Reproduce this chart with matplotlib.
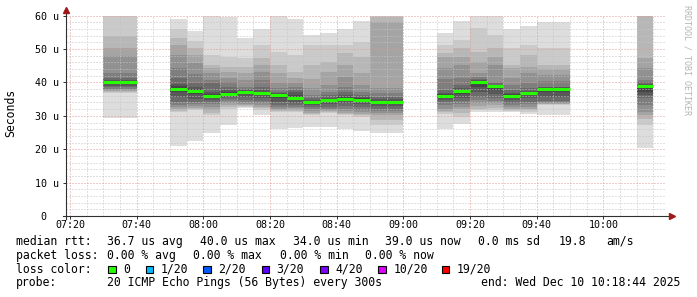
import matplotlib
matplotlib.use("Agg")
import matplotlib.pyplot as plt
from matplotlib.patches import Rectangle
from matplotlib.ticker import FixedLocator, MultipleLocator, FixedFormatter
import numpy as np

# ---------------- data (values in microseconds) ----------------
slot_times = ["07:30", "07:35", "07:50", "07:55", "08:00", "08:05", "08:10", "08:15",
              "08:20", "08:25", "08:30", "08:35", "08:40", "08:45", "08:50", "08:55",
              "09:10", "09:15", "09:20", "09:25", "09:30", "09:35", "09:40", "09:45",
              "10:10"]

pings = [
    [29.3, 36.8, 37.0, 37.3, 37.6, 38.0, 38.5, 39.0, 39.5, 39.9, 40.2, 40.5, 40.8, 41.2, 42.7, 48.0, 50.2, 54.0, 61.0, 66.0],
    [29.3, 36.8, 37.0, 37.3, 37.6, 38.0, 38.5, 39.0, 39.5, 39.9, 40.2, 40.5, 40.8, 41.2, 42.7, 48.0, 50.2, 54.0, 61.0, 66.0],
    [21.1, 31.2, 31.6, 32.0, 32.6, 33.2, 34.2, 35.5, 37.0, 37.8, 38.2, 38.8, 39.6, 41.2, 44.2, 48.2, 51.2, 53.2, 56.0, 59.1],
    [22.6, 31.7, 32.0, 32.4, 32.9, 33.4, 34.0, 35.0, 36.5, 37.3, 37.7, 38.1, 38.6, 39.7, 42.5, 45.7, 48.2, 50.2, 52.4, 55.3],
    [24.9, 30.2, 31.0, 31.8, 32.7, 33.6, 34.2, 34.8, 35.4, 35.9, 36.1, 36.4, 37.2, 39.7, 40.7, 42.7, 44.2, 45.2, 48.2, 62.0],
    [27.3, 32.2, 32.7, 33.2, 33.7, 34.3, 34.9, 35.5, 36.0, 36.3, 36.6, 37.0, 37.6, 38.7, 40.0, 41.2, 43.2, 44.7, 47.7, 59.5],
    [32.3, 32.6, 32.9, 33.2, 33.6, 34.2, 34.8, 35.6, 36.5, 37.1, 37.3, 37.5, 37.7, 38.0, 38.7, 40.7, 42.7, 44.7, 47.2, 53.2],
    [30.3, 31.8, 32.3, 32.7, 33.2, 33.7, 34.4, 35.2, 36.2, 36.6, 36.8, 37.2, 37.7, 38.7, 40.7, 43.2, 45.2, 47.2, 51.2, 56.1],
    [26.1, 31.2, 31.5, 31.8, 32.2, 32.6, 33.2, 34.2, 35.2, 35.9, 36.3, 36.5, 36.8, 37.2, 38.2, 39.7, 42.7, 45.2, 49.2, 62.0],
    [26.5, 31.2, 31.5, 31.9, 32.3, 32.7, 33.2, 33.8, 34.6, 35.2, 35.6, 36.2, 37.2, 37.7, 38.7, 39.7, 41.2, 43.2, 48.2, 59.1],
    [26.7, 30.2, 30.6, 31.0, 31.6, 32.2, 32.7, 33.2, 33.6, 34.0, 34.2, 34.4, 34.7, 35.2, 36.2, 38.2, 41.0, 45.2, 51.2, 54.1],
    [26.8, 30.8, 31.1, 31.4, 31.8, 32.2, 32.7, 33.4, 34.0, 34.5, 34.7, 34.9, 35.4, 36.2, 37.2, 39.2, 43.2, 46.2, 51.2, 54.7],
    [26.1, 30.2, 30.6, 31.0, 31.6, 32.2, 32.9, 33.7, 34.5, 35.0, 35.3, 35.7, 36.2, 37.2, 38.7, 41.7, 45.2, 48.7, 51.2, 56.1],
    [25.6, 29.7, 30.2, 30.7, 31.2, 31.9, 32.7, 33.5, 34.2, 34.7, 35.0, 35.2, 35.6, 36.2, 37.2, 39.2, 42.7, 47.7, 52.2, 58.3],
    [25.0, 27.2, 28.7, 30.2, 31.0, 31.6, 32.2, 33.0, 33.7, 34.1, 34.3, 34.5, 34.9, 35.5, 36.7, 38.2, 58.0, 59.5, 60.5, 62.0],
    [25.0, 27.2, 28.7, 30.2, 31.0, 31.6, 32.2, 33.0, 33.7, 34.1, 34.3, 34.5, 34.9, 35.5, 36.7, 38.2, 58.0, 59.5, 60.5, 62.0],
    [26.1, 30.7, 31.2, 31.6, 32.2, 33.2, 34.2, 34.7, 35.4, 35.9, 36.1, 36.4, 36.9, 37.7, 41.0, 44.2, 47.7, 48.7, 51.2, 54.9],
    [27.6, 29.7, 31.0, 32.2, 32.8, 33.6, 34.4, 35.4, 36.6, 37.3, 37.5, 37.8, 38.2, 39.2, 41.2, 45.2, 47.7, 50.2, 52.7, 58.5],
    [31.2, 31.7, 32.2, 33.0, 33.7, 34.7, 35.7, 37.2, 38.7, 40.1, 40.3, 40.5, 40.7, 41.0, 41.7, 42.7, 46.2, 49.2, 56.2, 62.0],
    [31.2, 31.9, 32.5, 33.2, 33.7, 34.4, 35.2, 36.5, 37.7, 38.7, 38.9, 39.0, 39.3, 39.7, 40.2, 45.2, 47.7, 50.2, 54.2, 62.0],
    [31.2, 31.6, 31.9, 32.2, 32.7, 33.2, 33.9, 34.7, 35.4, 35.9, 36.1, 36.4, 36.9, 37.7, 39.2, 41.2, 44.2, 45.2, 50.2, 56.1],
    [30.7, 31.2, 31.7, 32.2, 32.8, 33.4, 34.2, 35.2, 36.2, 36.7, 36.9, 37.1, 37.5, 38.2, 39.7, 42.7, 44.7, 48.2, 51.2, 56.8],
    [30.2, 33.2, 33.4, 33.6, 33.8, 34.0, 34.4, 35.6, 37.0, 37.9, 38.1, 38.3, 38.5, 38.7, 40.5, 42.2, 44.0, 45.2, 50.2, 58.0],
    [30.2, 33.2, 33.4, 33.6, 33.8, 34.0, 34.4, 35.6, 37.0, 37.9, 38.1, 38.3, 38.5, 38.7, 40.5, 42.2, 44.0, 45.2, 50.2, 58.0],
    [20.3, 27.3, 29.2, 30.3, 31.2, 33.3, 35.2, 36.3, 37.2, 38.9, 39.1, 39.3, 39.6, 40.0, 40.8, 44.3, 47.3, 61.0, 65.0, 70.0],
]

step_minutes = 5
range_start = "07:18:44"
range_end = "10:18:44"

y_ticks = [0, 10, 20, 30, 40, 50, 60]
y_tick_labels = ["0  ", "10 u", "20 u", "30 u", "40 u", "50 u", "60 u"]
x_tick_labels = ["07:20", "07:40", "08:00", "08:20", "08:40", "09:00", "09:20", "09:40", "10:00"]

stats_rtt = ["median rtt:", "36.7 us avg", "40.0 us max", "34.0 us min", "39.0 us now", "0.0 ms sd", "19.8", "am/s"]
stats_loss = ["packet loss:", "0.00 % avg", "0.00 % max", "0.00 % min", "0.00 % now"]
loss_labels = ["0", "1/20", "2/20", "3/20", "4/20", "10/20", "19/20"]
loss_colors = ["#26ff00", "#00b8ff", "#0059ff", "#5e00ff", "#7e00ff", "#dd00ff", "#ff0000"]
probe_text = "20 ICMP Echo Pings (56 Bytes) every 300s"
end_text = "end: Wed Dec 10 10:18:44 2025"


def to_min(s):
    parts = [int(p) for p in s.split(":")]
    while len(parts) < 3:
        parts.append(0)
    return parts[0] * 60 + parts[1] + parts[2] / 60.0


# ---------------- figure ----------------
W, H = 697, 297
fig = plt.figure(figsize=(W / 100, H / 100), dpi=100)
ax_left, ax_bottom, ax_w, ax_h = 65.8, 81, 600, 200.3
ax = fig.add_axes([ax_left / W, ax_bottom / H, ax_w / W, ax_h / H])

mono = "DejaVu Sans Mono"

x0 = np.array([to_min(t) for t in slot_times])
P = np.sort(np.array(pings), axis=1)
n = P.shape[1]
half = n // 2
for i in range(half):
    level = int(190 / half * (half - (i + 1))) + 50
    col = "#%02x%02x%02x" % (level, level, level)
    bot = P[:, i]
    top = P[:, n - 1 - i]
    ax.bar(x0, top - bot, width=step_minutes, bottom=bot, align="edge",
           color=col, linewidth=0, antialiased=False, zorder=1)

med = np.median(P, axis=1)
ax.hlines(med, x0, x0 + step_minutes, colors=loss_colors[0], linewidth=2.2, zorder=3)

ax.set_xlim(to_min(range_start), to_min(range_end))
ax.set_ylim(0, 60)

x_major = [to_min(t) for t in x_tick_labels]
ax.xaxis.set_major_locator(FixedLocator(x_major))
ax.xaxis.set_major_formatter(FixedFormatter(x_tick_labels))
ax.xaxis.set_minor_locator(MultipleLocator(5))
ax.yaxis.set_major_locator(FixedLocator(y_ticks))
ax.yaxis.set_major_formatter(FixedFormatter(y_tick_labels))
ax.yaxis.set_minor_locator(MultipleLocator(2))

ax.set_axisbelow("line")
ax.grid(which="minor", color="#c4c4c4", linestyle=(0, (1, 2)), linewidth=0.72)
ax.grid(which="major", color="#e09a9a", linestyle=(0, (1, 2)), linewidth=0.72)

for s in ax.spines.values():
    s.set_visible(False)

ax.tick_params(which="major", length=2, width=0.72, color="#333333",
               labelsize=7.2, pad=3)
ax.tick_params(axis="x", which="major", pad=0.8)
ax.tick_params(which="minor", length=0)
for lab in ax.get_xticklabels() + ax.get_yticklabels():
    lab.set_family(mono)

# axes lines with arrows
axis_col = "#303030"
arrow_col = "#a01818"
ax.plot([-0.005, 1.01], [0, 0], transform=ax.transAxes, color=axis_col,
        lw=0.8, clip_on=False, zorder=5)
ax.plot([0, 0], [-0.015, 1.03], transform=ax.transAxes, color=axis_col,
        lw=0.8, clip_on=False, zorder=5)
ax.plot([1.01], [0], marker=">", ms=4, color=arrow_col, transform=ax.transAxes,
        clip_on=False, zorder=6)
ax.plot([0], [1.03], marker="^", ms=4, color=arrow_col, transform=ax.transAxes,
        clip_on=False, zorder=6)

# y label & watermark
fig.text(11 / W, 1 - 113 / H, "Seconds", rotation=90, ha="center", va="center",
         family=mono, fontsize=8.3)
fig.text(687.3 / W, 1 - 60 / H, "RRDTOOL / TOBI OETIKER", rotation=-90,
         ha="center", va="center", family=mono, fontsize=6, color="#b4b4b4")

# legend / statistics text
fs = 8.3
rtt_x = [16, 107.3, 200, 293.3, 385, 478.3, 558.3, 606.7]
for txt, x in zip(stats_rtt, rtt_x):
    fig.text(x / W, 1 - 245 / H, txt, family=mono, fontsize=fs, va="baseline")

loss_x = [16, 107.3, 193.3, 280, 365]
for txt, x in zip(stats_loss, loss_x):
    fig.text(x / W, 1 - 258.8 / H, txt, family=mono, fontsize=fs, va="baseline")

fig.text(16 / W, 1 - 272.6 / H, "loss color:", family=mono, fontsize=fs, va="baseline")
box_x = [108.3, 145.7, 203.3, 261.7, 320, 378.3, 441.7]
for lab, colr, bx in zip(loss_labels, loss_colors, box_x):
    fig.add_artist(Rectangle((bx / W, 1 - 273.3 / H), 7.5 / W, 7.5 / H,
                             transform=fig.transFigure, facecolor=colr,
                             edgecolor="black", linewidth=0.8))
    fig.text((bx + 15) / W, 1 - 272.6 / H, lab, family=mono, fontsize=fs, va="baseline")

fig.text(16 / W, 1 - 286.4 / H, "probe:", family=mono, fontsize=fs, va="baseline")
fig.text(107.3 / W, 1 - 286.4 / H, probe_text, family=mono, fontsize=fs, va="baseline")
fig.text(680 / W, 1 - 286.4 / H, end_text, family=mono, fontsize=fs, va="baseline", ha="right")

fig.savefig("out.png", dpi=100, facecolor="white")
